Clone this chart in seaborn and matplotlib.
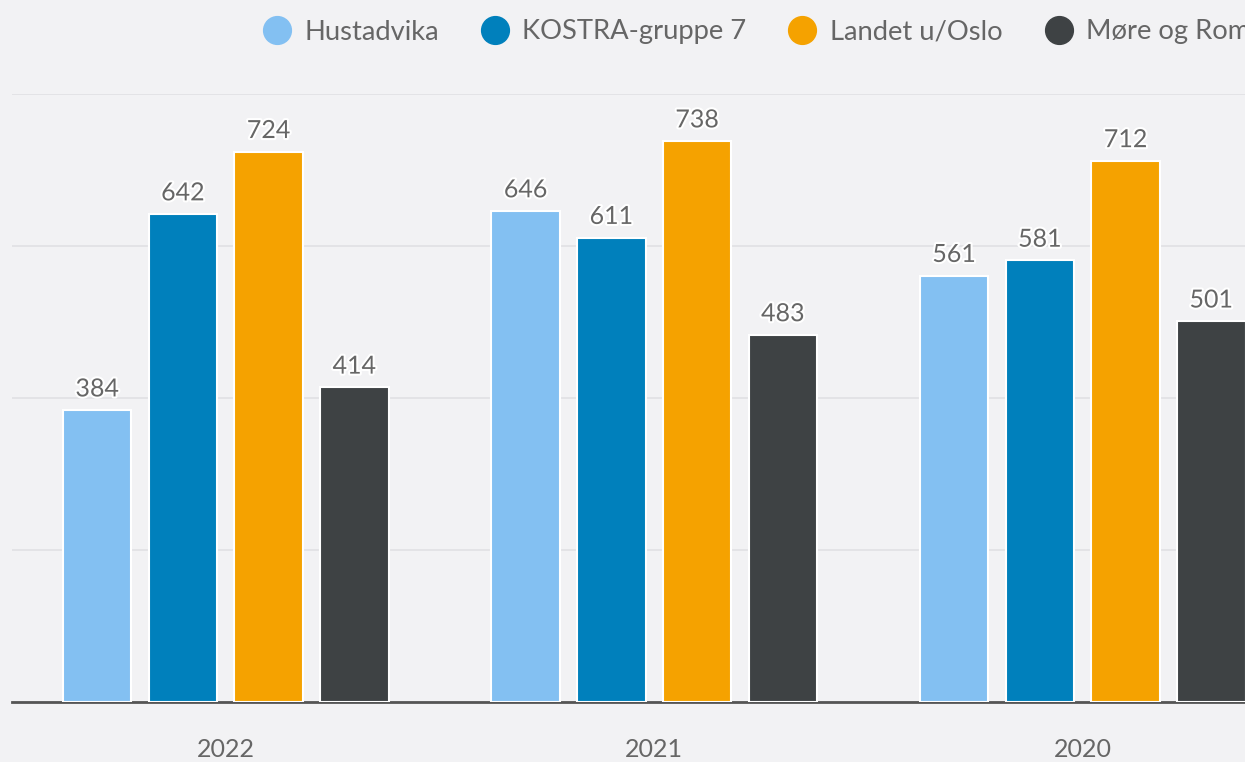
import matplotlib
matplotlib.use("Agg")
import matplotlib.pyplot as plt
import matplotlib.patheffects as pe
from matplotlib.lines import Line2D
import seaborn as sns
import pandas as pd

years = ["2022", "2021", "2020"]
series = ["Hustadvika", "KOSTRA-gruppe 7", "Landet u/Oslo", "Møre og Romsdal"]
hustadvika = [384, 646, 561]
kostra = [642, 611, 581]
landet = [724, 738, 712]
more = [414, 483, 501]
colors = ["#83c0f2", "#0080bc", "#f5a200", "#3e4244"]

rows = []
for name, vals in zip(series, [hustadvika, kostra, landet, more]):
    for y, v in zip(years, vals):
        rows.append({"year": y, "series": name, "value": v})
df = pd.DataFrame(rows)

sns.set_theme(style="white")
plt.rcParams["font.family"] = ["Lato", "DejaVu Sans"]

bg = "#f2f2f4"
fig = plt.figure(figsize=(12.45, 7.62), dpi=100, facecolor=bg)
W, H = 1245, 762
left_px, right_px = 11.5, 1297
top_px, bottom_px = 94, 702
ax = fig.add_axes([left_px / W, 1 - bottom_px / H, (right_px - left_px) / W, (bottom_px - top_px) / H])
ax.set_facecolor(bg)

sns.barplot(data=df, x="year", y="value", hue="series", order=years, hue_order=series,
            palette=colors, saturation=1, width=0.8, gap=0.2, edgecolor="white", linewidth=1.5,
            ax=ax, legend=False, zorder=3)

ax.set_xlim(-0.5, 2.5)
ax.set_ylim(0, 800)
ax.set_yticks([0, 200, 400, 600, 800])
ax.yaxis.grid(True, color="#e0e0e4", linewidth=1.2, zorder=0)
ax.set_axisbelow(True)
for s in ["top", "right", "left"]:
    ax.spines[s].set_visible(False)
ax.spines["bottom"].set_color("#555555")
ax.spines["bottom"].set_linewidth(2)
ax.spines["bottom"].set_zorder(2)
ax.tick_params(axis="y", left=False, labelleft=False)
ax.tick_params(axis="x", bottom=False, pad=20, labelsize=18, labelcolor="#666666")
ax.set_xlabel("")
ax.set_ylabel("")

for cont in ax.containers:
    labels = ax.bar_label(cont, padding=7, fontsize=18, color="#666666")
    for t in labels:
        t.set_path_effects([pe.withStroke(linewidth=3, foreground="white")])

handles = [Line2D([0], [0], marker="o", linestyle="", markersize=20,
                  markerfacecolor=c, markeredgecolor=c) for c in colors]
leg = fig.legend(handles, series, ncol=4, loc="center left",
                 bbox_to_anchor=(263 / W, 1 - 32 / H), frameon=False,
                 fontsize=19.7, handlelength=1.0, handletextpad=0.5,
                 columnspacing=1.55, borderaxespad=0, borderpad=0)
for t in leg.get_texts():
    t.set_color("#666666")

fig.savefig("out.png", dpi=100, facecolor=bg)
